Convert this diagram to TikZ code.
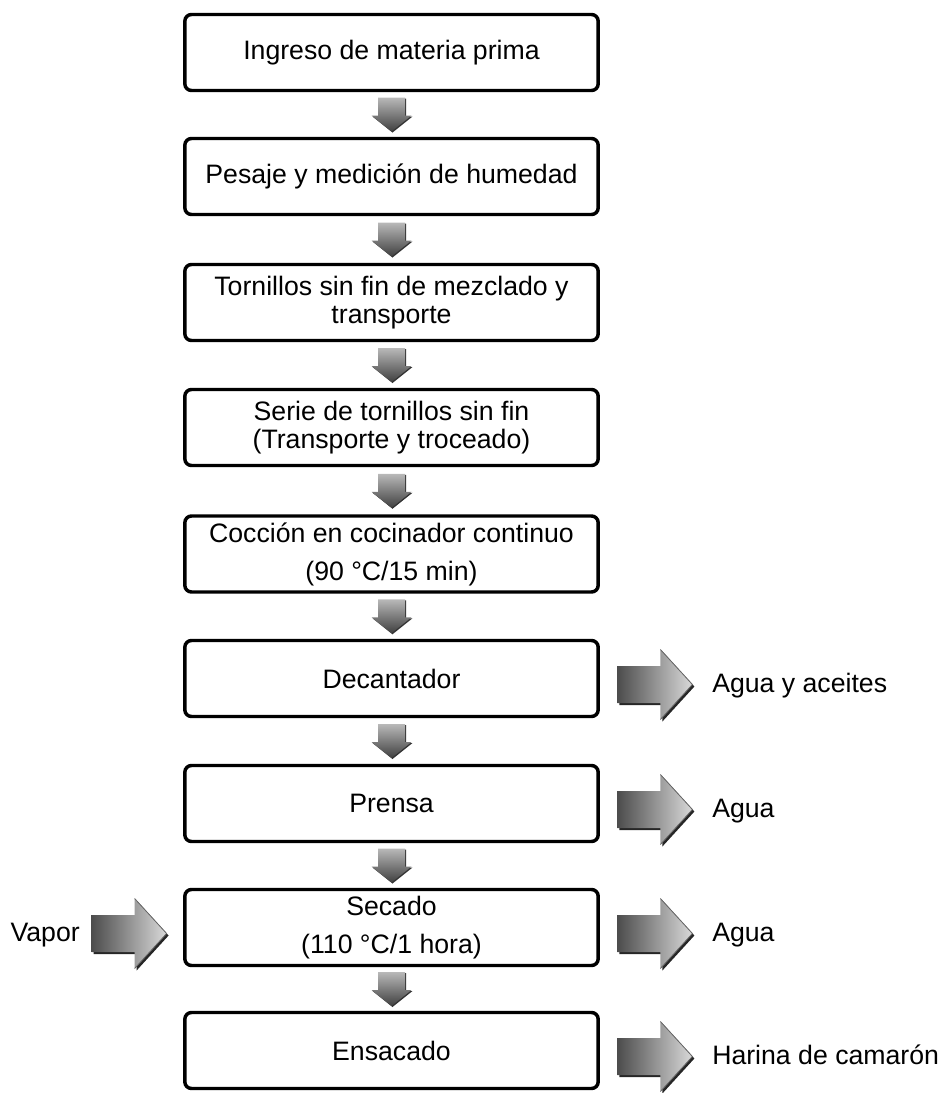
\documentclass[tikz,border=0pt]{standalone}
\usepackage{fontspec}
\setmainfont{Liberation Sans}
\usetikzlibrary{calc}

\tikzset{
  paso/.style={draw,line width=2.6pt,rounded corners=5pt,minimum width=310pt,minimum height=57pt,
    inner sep=0pt,align=center,font=\fontsize{20}{21.5}\selectfont},
  salida/.style={anchor=base west,inner sep=0pt,font=\fontsize{20}{24}\selectfont},
  bajada/.pic={
    \fill[black!80] (-12.5,-16) -- (14.5,-16) -- (14.5,2) -- (21,2) -- (1,18) -- (-19,2) -- (-12.5,2) -- cycle;
    \shade[top color=gray!55,bottom color=black!75] (-13.5,-17) -- (13.5,-17) -- (13.5,1) -- (20,1) -- (0,17) -- (-20,1) -- (-13.5,1) -- cycle;
  },
  lateral/.pic={
    \fill[black!85] (-35.5,-16.5) -- (7.5,-16.5) -- (7.5,-33) -- (39.5,2) -- (7.5,37) -- (7.5,20.5) -- (-35.5,20.5) -- cycle;
    \shade[left color=black!70,right color=gray!30] (-37.5,-18.5) -- (5.5,-18.5) -- (5.5,-35) -- (37.5,0) -- (5.5,35) -- (5.5,18.5) -- (-37.5,18.5) -- cycle;
    \draw[black!60,line width=0.6pt] (5.5,-35) -- (37.5,0) -- (5.5,35);
  },
}

\begin{document}
\begin{tikzpicture}[x=0.75pt,y=-0.75pt]
\useasboundingbox (0,0) rectangle (943,1093);
% etapas del proceso
\node[paso] (b1) at (391.5,52.5) {Ingreso de materia prima};
\node[paso] (b2) at (391.5,176.5) {Pesaje y medición de humedad};
\node[paso] (b3) at (391.5,302.5) {Tornillos sin fin de mezclado y\\transporte};
\node[paso] (b4) at (391.5,427.5) {Serie de tornillos sin fin\\(Transporte y troceado)};
\node[paso] (b5) at (391.5,554) {Cocción en cocinador continuo\\[7pt](90 °C/15 min)};
\node[paso] (b6) at (391.5,678.5) {Decantador};
\node[paso] (b7) at (391.5,803.5) {Prensa};
\node[paso] (b8) at (391.5,927.5) {Secado\\[7pt](110 °C/1 hora)};
\node[paso] (b9) at (391.5,1050.5) {Ensacado};
% flechas entre etapas
\pic at ($(b1.south)!0.5!(b2.north)$) {bajada};
\pic at ($(b2.south)!0.5!(b3.north)$) {bajada};
\pic at ($(b3.south)!0.5!(b4.north)$) {bajada};
\pic at ($(b4.south)!0.5!(b5.north)$) {bajada};
\pic at ($(b5.south)!0.5!(b6.north)$) {bajada};
\pic at ($(b6.south)!0.5!(b7.north)$) {bajada};
\pic at ($(b7.south)!0.5!(b8.north)$) {bajada};
\pic at ($(b8.south)!0.5!(b9.north)$) {bajada};
% entradas y salidas
\node[salida] (agua1) at (712,692.5) {Agua y aceites};
\node[salida] (agua2) at (712,817.5) {Agua};
\node[salida] (agua3) at (712,941.5) {Agua};
\node[salida] (harina) at (712,1064.5) {Harina de camarón};
\node[salida,anchor=base east] (vapor) at (80,941.5) {Vapor};
\pic at ($(b6.east)+(55,6)$) {lateral};
\pic at ($(b7.east)+(55,6)$) {lateral};
\pic at ($(b8.east)+(55,6)$) {lateral};
\pic at ($(b9.east)+(55,6)$) {lateral};
\pic at ($(b8.west)+(-54,6)$) {lateral};
\end{tikzpicture}
\end{document}
